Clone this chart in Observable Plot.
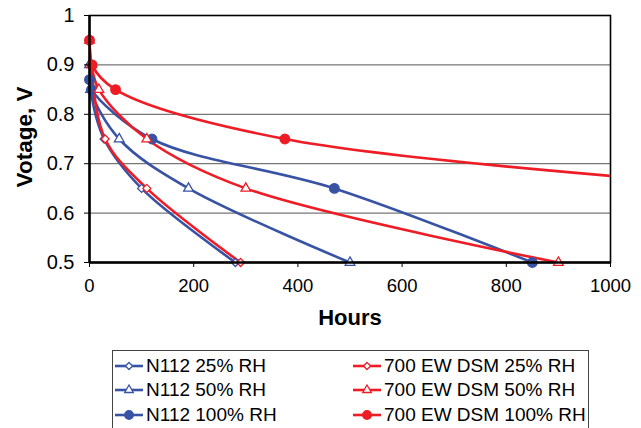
<!DOCTYPE html>
<html><head><meta charset="utf-8">
<script src="https://cdn.jsdelivr.net/npm/d3@7"></script>
<script src="https://cdn.jsdelivr.net/npm/@observablehq/plot@0.6"></script>
<style>
body{margin:0;background:#fff;font-family:"Liberation Sans",Arial,sans-serif;}
#wrap{position:relative;width:641px;height:428px;overflow:hidden;}
#legend{position:absolute;left:112px;top:350px;width:477px;height:80px;border:1px solid #444;box-sizing:border-box;}
.item{position:absolute;display:flex;align-items:center;font-size:19px;color:#000;white-space:nowrap;height:20px;}
.item svg{margin-right:3px;}
.lab{position:absolute;font-weight:bold;color:#000;white-space:nowrap;}
</style></head><body>
<div id="wrap"><div id="chart"></div><div id="legend"></div>
<div class="lab" style="left:350px;top:318px;font-size:22px;transform:translate(-50%,-50%);">Hours</div>
<div class="lab" style="left:25px;top:137px;font-size:22.5px;transform:translate(-50%,-50%) rotate(-90deg);">Votage, V</div>
</div>
<script>
// ---- data ----
const seriesNames = ["N112 25% RH","N112 50% RH","N112 100% RH","700 EW DSM 25% RH","700 EW DSM 50% RH","700 EW DSM 100% RH"];
const n112_25_hours = [0, 2, 28, 100, 280];
const n112_25_volts = [0.9, 0.85, 0.75, 0.65, 0.5];
const n112_50_hours = [0, 2, 57, 190, 500];
const n112_50_volts = [0.9, 0.85, 0.75, 0.65, 0.5];
const n112_100_hours = [0, 4, 120, 470, 850];
const n112_100_volts = [0.87, 0.85, 0.75, 0.65, 0.5];
const dsm_25_hours = [0, 3, 30, 110, 290];
const dsm_25_volts = [0.95, 0.9, 0.75, 0.65, 0.5];
const dsm_50_hours = [0, 4, 18, 110, 300, 900];
const dsm_50_volts = [0.95, 0.9, 0.85, 0.75, 0.65, 0.5];
const dsm_100_hours = [0, 5, 50, 375, 1300];
const dsm_100_volts = [0.95, 0.9, 0.85, 0.75, 0.65];
const xTicks = [0, 200, 400, 600, 800, 1000];
const yTicks = [0.5, 0.6, 0.7, 0.8, 0.9, 1];

// ---- styles ----
const BLUE = "#3953a4", RED = "#ee1c25";
const colors = [BLUE, BLUE, BLUE, RED, RED, RED];
const symbols = ["diamond2", "triangle2", "circle", "diamond2", "triangle2", "circle"];
const filled = [false, false, true, false, false, true];
const radius = [3.6, 4.6, 4.8, 3.6, 4.6, 4.8];

const hoursList = [n112_25_hours, n112_50_hours, n112_100_hours, dsm_25_hours, dsm_50_hours, dsm_100_hours];
const voltsList = [n112_25_volts, n112_50_volts, n112_100_volts, dsm_25_volts, dsm_50_volts, dsm_100_volts];
const rows = [];
seriesNames.forEach((s, i) => hoursList[i].forEach((h, j) => rows.push({series: s, idx: i, h, v: voltsList[i][j]})));
const visibleRows = rows.filter(d => d.h <= 1000);

const marks = [
  Plot.gridY(yTicks.filter(t => t > 0.5 && t < 1), {stroke: "#555", strokeOpacity: 1, strokeWidth: 1}),
  Plot.frame({stroke: "#000", strokeWidth: 1.6}),
];
seriesNames.forEach((s, i) => {
  marks.push(Plot.line(rows.filter(d => d.idx === i), {x: "h", y: "v", stroke: colors[i], strokeWidth: 2.6, curve: "catmull-rom", clip: true}));
});
seriesNames.forEach((s, i) => {
  marks.push(Plot.dot(visibleRows.filter(d => d.idx === i), {
    x: "h", y: "v", symbol: () => symbols[i], r: radius[i],
    stroke: colors[i], strokeWidth: 1.3, fill: filled[i] ? colors[i] : "white"
  }));
});
marks.push(
  Plot.ruleX([0], {stroke: "#000", strokeWidth: 2.5}),
  Plot.ruleY([0.5], {stroke: "#000", strokeWidth: 2.5}),
  Plot.axisX({ticks: xTicks, tickSize: 5, tickPadding: 11, fontSize: 18.5, tickFormat: d => String(d), label: null, stroke: "#000"}),
  Plot.axisY({ticks: yTicks, tickSize: 5, tickPadding: 10, fontSize: 20, tickFormat: d => String(+d.toFixed(1)), label: null, stroke: "#000"})
);

const chart = Plot.plot({
  width: 641, height: 338,
  marginLeft: 89, marginRight: 31, marginTop: 15, marginBottom: 76,
  x: {domain: [0, 1000]},
  y: {domain: [0.5, 1]},
  style: {fontFamily: "'Liberation Sans', Arial, sans-serif", fontSize: "19px", color: "#000", background: "white", overflow: "visible"},
  marks
});
document.getElementById("chart").appendChild(chart);

// ---- legend ----
const legend = document.getElementById("legend");
const legPos = [[2, 15], [2, 39], [2, 64], [240, 15], [240, 39], [240, 64]];
seriesNames.forEach((s, i) => {
  const it = document.createElement("div");
  it.className = "item";
  it.style.left = legPos[i][0] + "px";
  it.style.top = (legPos[i][1] - 10) + "px";
  const sym = d3.symbol(symbols[i] === "circle" ? d3.symbolCircle : symbols[i] === "triangle2" ? d3.symbolTriangle2 : d3.symbolDiamond2, Math.PI * radius[i] * radius[i] * 0.8)();
  it.innerHTML = `<svg width="28" height="20" viewBox="0 0 28 20"><line x1="0" x2="28" y1="10" y2="10" stroke="${colors[i]}" stroke-width="2.6"/><path d="${sym}" transform="translate(14,10)" fill="${filled[i] ? colors[i] : 'white'}" stroke="${colors[i]}" stroke-width="1.3"/></svg><span>${s}</span>`;
  legend.appendChild(it);
});
</script>
</body></html>
